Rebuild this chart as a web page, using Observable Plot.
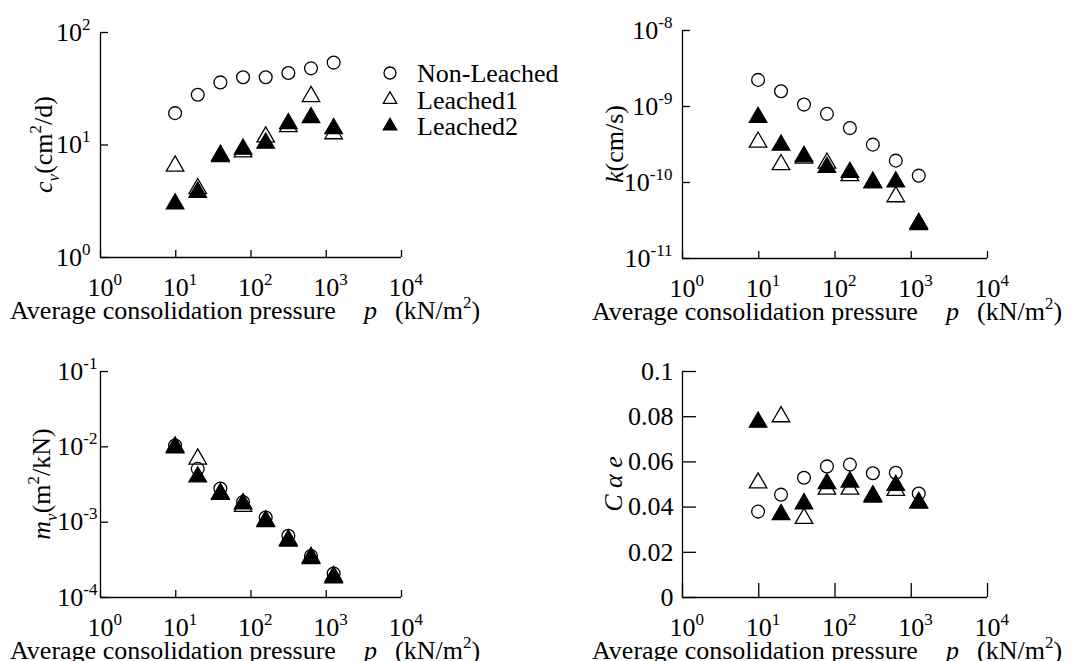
<!DOCTYPE html>
<html><head><meta charset="utf-8">
<script src="https://cdn.jsdelivr.net/npm/d3@7"></script>
<script src="https://cdn.jsdelivr.net/npm/@observablehq/plot@0.6"></script>
<style>
html,body{margin:0;padding:0;background:#fff;}
#root{position:relative;width:1075px;height:661px;overflow:hidden;font-family:"Liberation Serif","Times New Roman",serif;}
#root svg{position:absolute;overflow:visible;}
</style></head><body><div id="root"></div>
<script>
// ---- data ----
const pressure = [9.8, 19.6, 39.2, 78.4, 156.8, 313.6, 627.2, 1254.4];
const seriesNames = ["Non-Leached", "Leached1", "Leached2"];
const xTicks = [1, 10, 100, 1000, 10000];

const cvNonLeached = [19.2, 28, 36, 40, 40, 43.7, 48, 54];
const cvLeached1   = [6.5, 4.1, 8.1, 8.7, 11.8, 14.6, 27, 12.6];
const cvLeached2   = [3.0, 3.8, 7.9, 9.2, 10.4, 15.5, 17.5, 14];

const kNonLeached = [2.24e-9, 1.59e-9, 1.06e-9, 8.0e-10, 5.2e-10, 3.15e-10, 1.94e-10, 1.23e-10];
const kLeached1   = [3.4e-10, 1.72e-10, 2.1e-10, 1.8e-10, 1.23e-10, 1.0e-10, 6.5e-11, 2.8e-11];
const kLeached2   = [7.2e-10, 3.1e-10, 2.2e-10, 1.58e-10, 1.36e-10, 1.0e-10, 1.02e-10, 2.9e-11];

const mvNonLeached = [1.04e-2, 5.1e-3, 2.8e-3, 1.85e-3, 1.15e-3, 6.6e-4, 3.56e-4, 2.08e-4];
const mvLeached1   = [1.0e-2, 6.9e-3, 2.4e-3, 1.62e-3, 1.02e-3, 5.8e-4, 3.4e-4, 1.9e-4];
const mvLeached2   = [9.7e-3, 4.0e-3, 2.34e-3, 1.76e-3, 1.04e-3, 5.6e-4, 3.3e-4, 1.82e-4];

const caeNonLeached = [0.038, 0.0455, 0.053, 0.058, 0.0588, 0.055, 0.0552, 0.046];
const caeLeached1   = [0.0507, 0.080, 0.035, 0.048, 0.048, 0.045, 0.0474, 0.042];
const caeLeached2   = [0.0776, 0.0367, 0.0415, 0.0504, 0.0511, 0.0445, 0.0496, 0.0418];

const cvTicks = [1, 10, 100];
const kTicks = [1e-11, 1e-10, 1e-9, 1e-8];
const mvTicks = [1e-4, 1e-3, 1e-2, 1e-1];
const caeTicks = [0, 0.02, 0.04, 0.06, 0.08, 0.1];
const caeTickLabels = ["0", "0.02", "0.04", "0.06", "0.08", "0.1"];

// ---- helpers ----
function rows(nl, l1, l2) {
  const out = [];
  [nl, l1, l2].forEach((arr, si) => arr.forEach((v, i) => out.push({p: pressure[i], v, s: seriesNames[si]})));
  return out;
}
const powFmt = d => "10^" + Math.round(Math.log10(d));

function supify(svg) {
  d3.select(svg).selectAll("text").each(function() {
    const m = /^10\^(-?\d+)$/.exec(this.textContent);
    if (!m) return;
    const t = d3.select(this); t.text(null);
    t.append("tspan").attr("class", "base").text("10");
    t.append("tspan").attr("dy", -11).attr("font-size", 17).text(m[1]);
  });
  d3.select(svg).selectAll('g[aria-label="x-axis tick label"] text').each(function() {
    d3.select(this).attr("text-anchor", "start");
    d3.select(this).select("tspan.base").attr("dx", -13);
  });
}

function addParts(t, parts) {
  let shift = 0;
  parts.forEach(([txt, st]) => {
    const s = t.append("tspan").text(txt);
    let target = 0;
    if (st.includes("i")) s.attr("font-style", "italic");
    if (st.includes("sub")) { target = 7; s.attr("font-size", 17); }
    if (st.includes("sup")) { target = -11; s.attr("font-size", 17); }
    if (target - shift) s.attr("dy", target - shift);
    shift = target;
  });
}

function panel(cfg) {
  const data = rows(...cfg.series);
  const yBottom = cfg.yDomain[0];
  const plot = Plot.plot({
    width: cfg.width, height: cfg.height,
    marginLeft: cfg.mL, marginRight: cfg.mR, marginTop: cfg.mT, marginBottom: cfg.mB,
    style: {background: "transparent", fontFamily: '"Liberation Serif", serif', fontSize: "26px", color: "black", overflow: "visible"},
    x: {type: "log", domain: [1, 1e4]},
    y: {type: cfg.yType, domain: cfg.yDomain},
    marks: [
      Plot.axisX(xTicks, {tickSize: -cfg.tickX, fill: "none", strokeWidth: 1.3, label: null}),
      Plot.axisX(xTicks, {tickSize: 0, tickPadding: 20, tickFormat: powFmt, label: null}),
      Plot.axisY(cfg.yTicks, {tickSize: -cfg.tickY, fill: "none", strokeWidth: 1.3, label: null}),
      Plot.axisY(cfg.yTicks, {tickSize: 0, tickPadding: cfg.yGap, tickFormat: cfg.yFmt, label: null}),
      Plot.ruleX([1], {strokeWidth: 1.3}),
      Plot.ruleY([yBottom], {strokeWidth: 1.3}),
      Plot.dot(data.filter(d => d.s === seriesNames[0]), {x: "p", y: "v", symbol: "circle", r: 6.4, stroke: "black", fill: "none", strokeWidth: 1.3}),
      Plot.dot(data.filter(d => d.s === seriesNames[1]), {x: "p", y: "v", symbol: "triangle", r: 6.5, stroke: "black", fill: "none", strokeWidth: 1.3}),
      Plot.dot(data.filter(d => d.s === seriesNames[2]), {x: "p", y: "v", symbol: "triangle", r: 6.5, stroke: "black", fill: "black", strokeWidth: 1.3})
    ]
  });
  plot.style.left = cfg.left + "px";
  plot.style.top = cfg.top + "px";
  supify(plot);
  const svg = d3.select(plot);
  // x axis title
  const x0 = cfg.mL - 90;
  const bl = cfg.height - cfg.mB + 62;
  const xt = svg.append("text").attr("x", x0).attr("y", bl).attr("font-size", 26)
    .attr("text-anchor", "start").attr("fill", "black");
  xt.append("tspan").text("Average consolidation pressure");
  xt.append("tspan").attr("x", x0 + 354).attr("font-style", "italic").text("p");
  xt.append("tspan").attr("x", x0 + 385).text("(kN/m");
  xt.append("tspan").attr("dy", -11).attr("font-size", 17).text("2");
  xt.append("tspan").attr("dy", 11).text(")");
  // y axis title
  const yc = cfg.mT + (cfg.height - cfg.mT - cfg.mB) / 2;
  const yt = svg.append("text").attr("transform", `translate(${cfg.titleX},${yc}) rotate(-90)`)
    .attr("text-anchor", "middle").attr("font-size", 26).attr("fill", "black");
  addParts(yt, cfg.title);
  document.getElementById("root").appendChild(plot);
}

panel({left: 0, top: 0, width: 540, height: 330, mL: 100, mR: 139, mT: 32, mB: 73,
  yType: "log", yDomain: [1, 100], yTicks: cvTicks, yFmt: powFmt, yGap: 10, tickX: 7, tickY: 8,
  series: [cvNonLeached, cvLeached1, cvLeached2], titleX: 52,
  title: [["c", "i"], ["v", "i sub"], ["(cm", ""], ["2", "sup"], ["/d)", ""]]});

panel({left: 540, top: 0, width: 535, height: 330, mL: 142, mR: 88, mT: 30, mB: 72,
  yType: "log", yDomain: [1e-11, 1e-8], yTicks: kTicks, yFmt: powFmt, yGap: 10, tickX: 7, tickY: 8,
  series: [kNonLeached, kLeached1, kLeached2], titleX: 83,
  title: [["k", "i"], ["(cm/s)", ""]]});

panel({left: 0, top: 330, width: 540, height: 331, mL: 100, mR: 139, mT: 41, mB: 64,
  yType: "log", yDomain: [1e-4, 1e-1], yTicks: mvTicks, yFmt: powFmt, yGap: 3, tickX: 7, tickY: 8,
  series: [mvNonLeached, mvLeached1, mvLeached2], titleX: 50,
  title: [["m", "i"], ["v", "i sub"], ["(m", ""], ["2", "sup"], ["/kN)", ""]]});

panel({left: 540, top: 330, width: 535, height: 331, mL: 142, mR: 88, mT: 41, mB: 64,
  yType: "linear", yDomain: [0, 0.1], yTicks: caeTicks, yFmt: (d, i) => caeTickLabels[i], yGap: 9, tickX: 14, tickY: 14,
  series: [caeNonLeached, caeLeached1, caeLeached2], titleX: 82,
  title: [["C α e", "i"]]});

// ---- legend ----
const leg = d3.select("#root").append("svg").attr("width", 200).attr("height", 90)
  .style("left", "370px").style("top", "55px");
const legRows = [
  {name: seriesNames[0], sym: d3.symbolCircle, size: Math.PI * 36, fill: "none"},
  {name: seriesNames[1], sym: d3.symbolTriangle, size: Math.PI * 25, fill: "none"},
  {name: seriesNames[2], sym: d3.symbolTriangle, size: Math.PI * 25, fill: "black"}
];
legRows.forEach((r, i) => {
  const cy = 18 + i * 26.5;
  leg.append("path").attr("d", d3.symbol(r.sym, r.size)()).attr("transform", `translate(20,${cy})`)
    .attr("fill", r.fill).attr("stroke", "black").attr("stroke-width", 1.3);
  leg.append("text").attr("x", 47).attr("y", cy + 9).attr("font-size", 26)
    .attr("font-family", '"Liberation Serif", serif').attr("fill", "black").text(r.name);
});
</script></body></html>
